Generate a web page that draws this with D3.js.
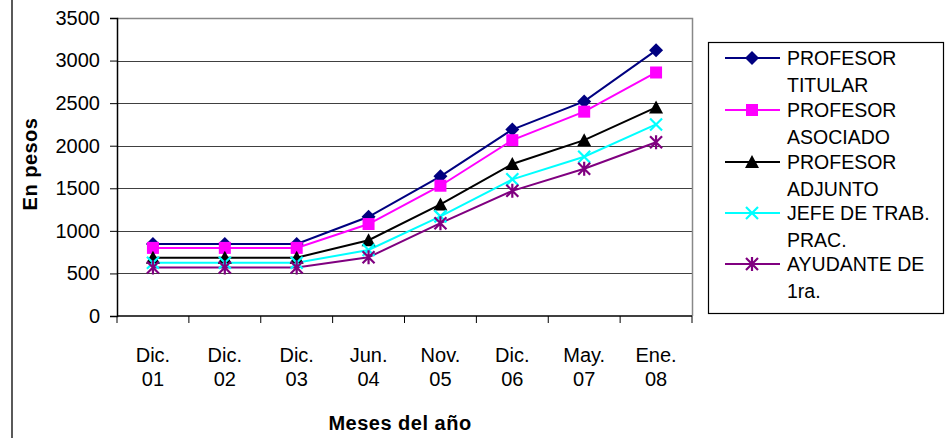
<!DOCTYPE html>
<html><head><meta charset="utf-8">
<script src="https://cdn.jsdelivr.net/npm/d3@7"></script>
<style>body{margin:0;background:#fff}svg{display:block;font-family:"Liberation Sans",Arial,sans-serif}</style>
</head><body><svg id="c" width="951" height="438"></svg>
<script>
const months = ["Dic.","Dic.","Dic.","Jun.","Nov.","Dic.","May.","Ene."];
const years = ["01","02","03","04","05","06","07","08"];
const yTicks = [0,500,1000,1500,2000,2500,3000,3500];
const titular  = [845, 845, 845, 1165, 1640, 2190, 2520, 3120];
const asociado = [800, 800, 800, 1080, 1530, 2065, 2400, 2860];
const adjunto  = [685, 685, 685, 890, 1310, 1785, 2065, 2450];
const jefeTP   = [625, 625, 625, 775, 1170, 1605, 1870, 2250];
const ayudante = [570, 570, 570, 690, 1090, 1470, 1730, 2040];
const seriesNames = [["PROFESOR","TITULAR"],["PROFESOR","ASOCIADO"],["PROFESOR","ADJUNTO"],["JEFE DE TRAB.","PRAC."],["AYUDANTE DE","1ra."]];
const seriesColors = ["#000080","#ff00ff","#000000","#00ffff","#800080"];
const seriesMarkers = ["diamond","square","triangle","x","star"];
const seriesValues = [titular, asociado, adjunto, jefeTP, ayudante];

const svg = d3.select("#c");
const L = 117, R = 692, T = 18, B = 316;
const x = d3.scaleBand().domain(d3.range(months.length)).range([L, R]);
const y = d3.scaleLinear().domain([0, 3500]).range([B, T]);

// outer frame left line
svg.append("line").attr("x1",12).attr("x2",12).attr("y1",0).attr("y2",438).attr("stroke","#000").attr("stroke-width",1.3);

// gridlines
svg.append("g").selectAll("line").data(yTicks.filter(d=>d>0 && d<3500)).join("line")
  .attr("x1",L).attr("x2",R).attr("y1",d=>Math.round(y(d))+0.5).attr("y2",d=>Math.round(y(d))+0.5)
  .attr("stroke","#404040").attr("stroke-width",1);
// plot border top/right
svg.append("path").attr("d",`M${L},${T+0.5}H${R+0.5}V${B}`).attr("fill","none").attr("stroke","#888").attr("stroke-width",1.5);

// y axis
const yAxis = d3.axisLeft(y).tickValues(yTicks).tickSize(7).tickPadding(10).tickFormat(d3.format("d"));
const gy = svg.append("g").attr("transform",`translate(${L},0)`).call(yAxis);
gy.select(".domain").attr("stroke","#000").attr("stroke-width",1.5);
gy.selectAll(".tick line").attr("stroke","#000");
gy.selectAll(".tick text").attr("font-size",20).attr("fill","#000").attr("font-family","'Liberation Sans',Arial,sans-serif");

// x axis
const xEdges = d3.scaleLinear().domain([0, months.length]).range([L, R]);
const gx = svg.append("g").attr("transform",`translate(0,${B})`);
gx.append("line").attr("x1",L).attr("x2",R).attr("stroke","#000").attr("stroke-width",1.5);
gx.selectAll("line.t").data(d3.range(months.length+1)).join("line").attr("class","t")
  .attr("x1",d=>xEdges(d)).attr("x2",d=>xEdges(d)).attr("y1",0).attr("y2",7).attr("stroke","#000");
const xl = svg.append("g").attr("font-size",20).attr("text-anchor","middle");
xl.selectAll("text.m").data(months).join("text").attr("class","m")
  .attr("x",(d,i)=>x(i)+x.bandwidth()/2).attr("y",362).text(d=>d);
xl.selectAll("text.yr").data(years).join("text").attr("class","yr")
  .attr("x",(d,i)=>x(i)+x.bandwidth()/2).attr("y",386).text(d=>d);

// titles
svg.append("text").attr("x",400).attr("y",430).attr("text-anchor","middle").attr("font-size",20).attr("font-weight","bold").attr("letter-spacing",0.5).text("Meses del año");
svg.append("text").attr("transform","translate(37,164) rotate(-90)").attr("text-anchor","middle").attr("font-size",20).attr("font-weight","bold").attr("letter-spacing",0.5).text("En pesos");

function marker(g, type, color){
  const s = 6;
  if(type==="diamond") g.append("path").attr("d",`M0,${-s-1}L${s+1},0L0,${s+1}L${-s-1},0Z`).attr("fill",color);
  else if(type==="square") g.append("rect").attr("x",-s).attr("y",-s).attr("width",2*s).attr("height",2*s).attr("fill",color);
  else if(type==="triangle") g.append("path").attr("d",`M0,${-s-1}L${s+1},${s}L${-s-1},${s}Z`).attr("fill",color);
  else if(type==="x") g.append("path").attr("d",`M${-s},${-s}L${s},${s}M${-s},${s}L${s},${-s}`).attr("stroke",color).attr("stroke-width",2.2).attr("fill","none");
  else if(type==="star") g.append("path").attr("d",`M${-s},${-s}L${s},${s}M${-s},${s}L${s},${-s}M0,${-s-1}V${s+1}`).attr("stroke",color).attr("stroke-width",2.2).attr("fill","none");
}

const line = d3.line().x((d,i)=>x(i)+x.bandwidth()/2).y(d=>y(d));
seriesValues.forEach((vals, k) => {
  svg.append("path").datum(vals).attr("d",line).attr("fill","none").attr("stroke",seriesColors[k]).attr("stroke-width",2);
});
seriesValues.forEach((vals, k) => {
  vals.forEach((v,i)=>{
    const g = svg.append("g").attr("transform",`translate(${x(i)+x.bandwidth()/2},${y(v)})`);
    marker(g, seriesMarkers[k], seriesColors[k]);
  });
});

// legend
svg.append("rect").attr("x",708.5).attr("y",42.5).attr("width",235).attr("height",271).attr("fill","#fff").attr("stroke","#000").attr("stroke-width",1.2);
const legY = [58, 110, 162, 213, 264];
seriesNames.forEach((nm,k)=>{
  const g = svg.append("g").attr("transform",`translate(0,${legY[k]})`);
  g.append("line").attr("x1",725).attr("x2",780).attr("stroke",seriesColors[k]).attr("stroke-width",2);
  const mg = g.append("g").attr("transform","translate(752,0)");
  marker(mg, seriesMarkers[k], seriesColors[k]);
  g.append("text").attr("x",787).attr("y",7).attr("font-size",19.5).text(nm[0]);
  g.append("text").attr("x",787).attr("y",33.5).attr("font-size",19.5).text(nm[1]);
});
</script></body></html>
